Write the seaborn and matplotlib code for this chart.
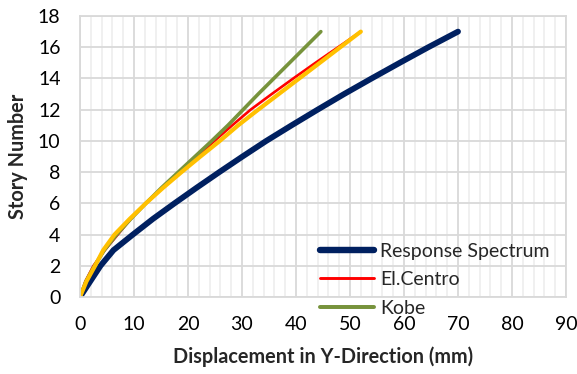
import matplotlib
matplotlib.use("Agg")
import matplotlib.pyplot as plt
import seaborn as sns
import pandas as pd
from matplotlib.ticker import MultipleLocator
from matplotlib.lines import Line2D

stories = list(range(18))
response_spectrum = [0, 1.9, 3.8, 6.2, 9.8, 13.5, 17.5, 21.6, 25.8, 30.1, 34.5, 39.2, 44.0, 48.9, 54.0, 59.2, 64.5, 70.0]
el_centro = [0, 1.0, 2.5, 4.6, 7.0, 9.4, 12.2, 15.2, 18.4, 21.7, 24.9, 28.2, 31.6, 35.5, 39.5, 43.6, 47.8, 52.0]
kobe = [0, 1.1, 2.7, 4.5, 6.8, 9.4, 12.2, 15.1, 18.2, 21.3, 24.4, 27.4, 30.2, 33.0, 35.9, 38.8, 41.7, 44.6]
fourth = [0, 1.2, 2.8, 4.3, 6.4, 9.2, 12.2, 15.4, 18.8, 22.3, 25.9, 29.3, 33.0, 36.8, 40.6, 44.4, 48.2, 52.0]

series_names = ["Response Spectrum", "El.Centro", "Kobe", "_fourth"]
series_values = [response_spectrum, el_centro, kobe, fourth]
colors = ["#002060", "#FF0000", "#77933C", "#FFC000"]
widths = [4.2, 1.9, 2.6, 3.0]
draw_order = [0, 1, 2, 3]

sns.set_theme(style="white")
plt.rcParams['font.family'] = ['Lato', 'DejaVu Sans']

fig = plt.figure(figsize=(5.77, 3.74), dpi=100)
ax = fig.add_axes([0.1386, 0.2059, 0.981 - 0.1386, 0.9572 - 0.2059])

for i in draw_order:
    df = pd.DataFrame({"disp": series_values[i], "story": stories})
    sns.lineplot(data=df, x="disp", y="story", ax=ax, color=colors[i], linewidth=widths[i],
                 sort=False, estimator=None, legend=False, solid_capstyle="round", solid_joinstyle="round")

ax.set_xlim(0, 90)
ax.set_ylim(0, 18)
ax.xaxis.set_major_locator(MultipleLocator(10))
ax.xaxis.set_minor_locator(MultipleLocator(2))
ax.yaxis.set_major_locator(MultipleLocator(2))
ax.grid(which="major", color="#d9d9d9", linewidth=1.3)
ax.grid(which="minor", axis="x", color="#efefef", linewidth=1.3)
ax.set_axisbelow(True)
for s in ax.spines.values():
    s.set_color("#d9d9d9")
    s.set_linewidth(1.3)
ax.tick_params(axis="x", which="both", length=0, labelsize=14, colors="black", pad=14)
ax.tick_params(axis="y", which="both", length=0, labelsize=14, colors="black", pad=14)

ax.set_xlabel("Displacement in Y-Direction (mm)", fontsize=14.3, fontweight="bold", labelpad=9)
ax.set_ylabel("Story Number", fontsize=14.3, fontweight="bold", labelpad=7)

leg_handles = [Line2D([], [], color=colors[i], linewidth=widths[i] * 1.1, solid_capstyle="round") for i in range(3)]
leg = fig.legend(leg_handles, series_names[:3], loc="upper left", bbox_to_anchor=(0.5546, 1 - 243 / 374),
                 frameon=False, fontsize=14, handlelength=2.8, handletextpad=0.3, labelspacing=0.58,
                 borderaxespad=0, borderpad=0)

fig.savefig("out.png", dpi=100)
